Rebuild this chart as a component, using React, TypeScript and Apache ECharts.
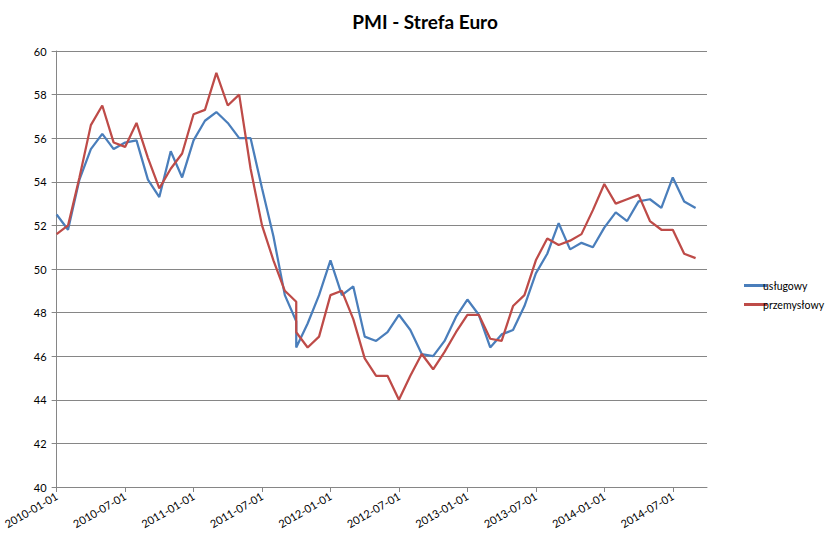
import React, { useEffect, useRef } from "react";
import * as echarts from "echarts";

const dates: string[] = [
  "2010-01-01", "2010-02-01", "2010-03-01", "2010-04-01", "2010-05-01", "2010-06-01",
  "2010-07-01", "2010-08-01", "2010-09-01", "2010-10-01", "2010-11-01", "2010-12-01",
  "2011-01-01", "2011-02-01", "2011-03-01", "2011-04-01", "2011-05-01", "2011-06-01",
  "2011-07-01", "2011-08-01", "2011-09-01", "2011-10-01", "2011-10-01", "2011-11-01",
  "2011-12-01", "2012-01-01", "2012-02-01", "2012-03-01", "2012-04-01", "2012-05-01",
  "2012-06-01", "2012-07-01", "2012-08-01", "2012-09-01", "2012-10-01", "2012-11-01",
  "2012-12-01", "2013-01-01", "2013-02-01", "2013-03-01", "2013-04-01", "2013-05-01",
  "2013-06-01", "2013-07-01", "2013-08-01", "2013-09-01", "2013-10-01", "2013-11-01",
  "2013-12-01", "2014-01-01", "2014-02-01", "2014-03-01", "2014-04-01", "2014-05-01",
  "2014-06-01", "2014-07-01", "2014-08-01", "2014-09-01",
];

const uslugowy: number[] = [
  52.5, 51.8, 54.1, 55.5, 56.2, 55.5, 55.8, 55.9, 54.1, 53.3, 55.4, 54.2,
  55.9, 56.8, 57.2, 56.7, 56.0, 56.0, 53.7, 51.5, 48.8, 47.6, 46.4, 47.5,
  48.8, 50.4, 48.8, 49.2, 46.9, 46.7, 47.1, 47.9, 47.2, 46.1, 46.0, 46.7,
  47.8, 48.6, 47.9, 46.4, 47.0, 47.2, 48.3, 49.8, 50.7, 52.1, 50.9, 51.2,
  51.0, 51.9, 52.6, 52.2, 53.1, 53.2, 52.8, 54.2, 53.1, 52.8,
];

const przemyslowy: number[] = [
  51.6, 52.0, 54.2, 56.6, 57.5, 55.8, 55.6, 56.7, 55.1, 53.7, 54.6, 55.3,
  57.1, 57.3, 59.0, 57.5, 58.0, 54.6, 52.0, 50.4, 49.0, 48.5, 47.1, 46.4,
  46.9, 48.8, 49.0, 47.7, 45.9, 45.1, 45.1, 44.0, 45.1, 46.1, 45.4, 46.2,
  47.1, 47.9, 47.9, 46.8, 46.7, 48.3, 48.8, 50.4, 51.4, 51.1, 51.3, 51.6,
  52.7, 53.9, 53.0, 53.2, 53.4, 52.2, 51.8, 51.8, 50.7, 50.5,
];

const tickLabels: string[] = [
  "2010-01-01", "2010-07-01", "2011-01-01", "2011-07-01", "2012-01-01",
  "2012-07-01", "2013-01-01", "2013-07-01", "2014-01-01", "2014-07-01",
];

const axisStart = "2010-01-01";
const axisEnd = "2014-10-01";

const monthOffset = (d: string): number => {
  const [y, m] = d.split("-").map(Number);
  const [y0, m0] = axisStart.split("-").map(Number);
  return (y - y0) * 12 + (m - m0);
};

const FONT = "Lato, 'Open Sans', sans-serif";
const GRID = "#868686";

export default function App() {
  const ref = useRef<HTMLDivElement>(null);

  useEffect(() => {
    if (!ref.current) return;
    const chart = echarts.init(ref.current, undefined, { renderer: "svg" });
    const tickValues = tickLabels.map(monthOffset);
    const labelMap: Record<number, string> = {};
    tickLabels.forEach((t) => (labelMap[monthOffset(t)] = t));

    chart.setOption({
      animation: false,
      backgroundColor: "#ffffff",
      title: {
        text: "PMI - Strefa Euro",
        left: 420,
        top: 7,
        textAlign: "center",
        textStyle: { fontFamily: FONT, fontSize: 19, fontWeight: "bold", color: "#000" },
      },
      legend: {
        orient: "vertical",
        left: 739,
        top: 275,
        itemWidth: 23,
        itemHeight: 3,
        itemGap: 8,
        icon: "rect",
        textStyle: { fontFamily: FONT, fontSize: 10.5, color: "#000", padding: [0, 0, 0, -9] },
        data: ["usługowy", "przemysłowy"],
      },
      grid: { left: 52, right: 124, top: 51, bottom: 55, containLabel: false },
      xAxis: {
        type: "value",
        min: monthOffset(axisStart),
        max: monthOffset(axisEnd),
        interval: 6,
        splitLine: { show: false },
        axisLine: { show: true, lineStyle: { color: GRID, width: 1 } },
        axisTick: { show: true, length: 5, inside: false, customValues: tickValues, lineStyle: { color: GRID } },
        axisLabel: {
          customValues: tickValues,
          rotate: 30,
          margin: 8,
          fontFamily: FONT,
          fontSize: 11,
          color: "#000",
          formatter: (v: number) => labelMap[v] ?? "",
        },
      },
      yAxis: {
        type: "value",
        min: 40,
        max: 60,
        interval: 2,
        splitLine: { show: true, lineStyle: { color: GRID, width: 1 } },
        axisLine: { show: true, lineStyle: { color: GRID, width: 1 } },
        axisTick: { show: true, length: 5, lineStyle: { color: GRID } },
        axisLabel: { fontFamily: FONT, fontSize: 11, color: "#000", margin: 10 },
      },
      series: [
        {
          name: "usługowy",
          type: "line",
          showSymbol: false,
          data: dates.map((d, i) => [monthOffset(d), uslugowy[i]]),
          lineStyle: { color: "#4A7EBB", width: 2.25 },
          itemStyle: { color: "#4A7EBB" },
        },
        {
          name: "przemysłowy",
          type: "line",
          showSymbol: false,
          data: dates.map((d, i) => [monthOffset(d), przemyslowy[i]]),
          lineStyle: { color: "#BE4B48", width: 2.25 },
          itemStyle: { color: "#BE4B48" },
        },
      ],
    });
    return () => chart.dispose();
  }, []);

  return (
    <div
      ref={ref}
      style={{ position: "absolute", left: 0, top: 0, width: 831, height: 542 }}
    />
  );
}
